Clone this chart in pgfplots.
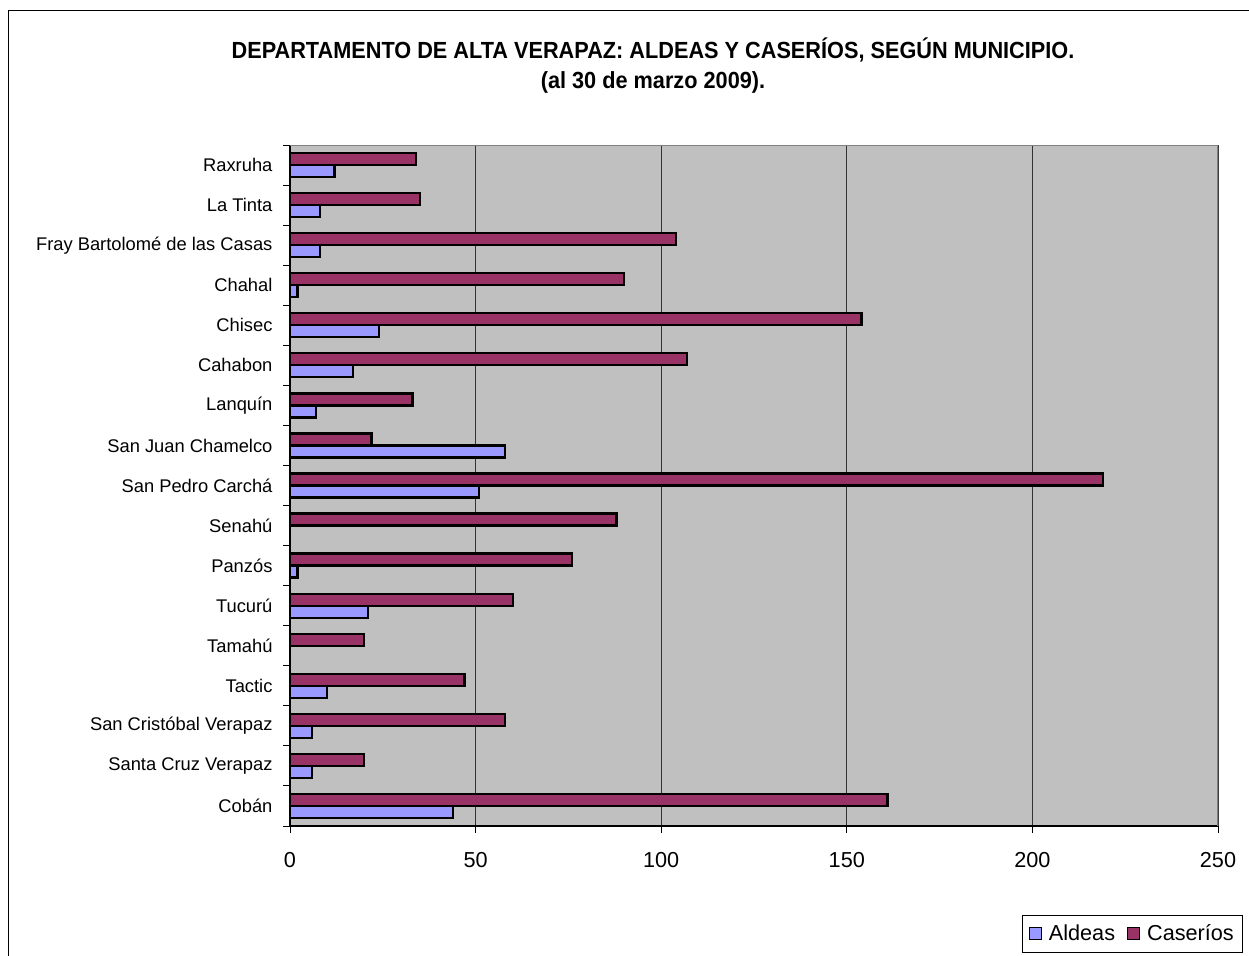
\documentclass[border=0pt]{standalone}
\usepackage{pgfplots}
\pgfplotsset{compat=1.18}
\usepackage{fontspec}
\setmainfont{Liberation Sans}
\definecolor{aldeas}{HTML}{9999FF}
\definecolor{caserios}{HTML}{993366}
\definecolor{plotbg}{HTML}{C0C0C0}
\begin{document}
\begin{tikzpicture}
\clip (0pt,0pt) rectangle (749.4pt,-573pt);
\fill[white] (0pt,0pt) rectangle (749.4pt,-573pt);
\draw[line width=0.6pt] (4.8pt,-600pt) -- (4.8pt,-6pt) -- (800pt,-6pt);
\node[font=\fontsize{14}{16}\selectfont\bfseries] at (391.8pt,-30pt) {\scalebox{0.93}[1]{DEPARTAMENTO DE ALTA VERAPAZ: ALDEAS Y CASERÍOS, SEGÚN MUNICIPIO.}};
\node[font=\fontsize{14}{16}\selectfont\bfseries] at (391.8pt,-49.2pt) {\scalebox{0.93}[1]{(al 30 de marzo 2009).}};
\begin{axis}[
  at={(174pt,-495.6pt)}, anchor=south west,
  scale only axis, width=556.8pt, height=408.6pt,
  xbar, bar width=7.2pt,
  xmin=0, xmax=250, xtick={0,50,100,150,200,250},
  ymin=-0.5, ymax=16.5,
  ytick={0,1,...,16},
  yticklabels={Cobán,Santa Cruz Verapaz,San Cristóbal Verapaz,Tactic,Tamahú,Tucurú,Panzós,Senahú,San Pedro Carchá,San Juan Chamelco,Lanquín,Cahabon,Chisec,Chahal,Fray Bartolomé de las Casas,La Tinta,Raxruha},
  minor ytick={-0.5,0.5,...,16.5},
  major y tick style={draw=none},
  minor y tick style={black, line width=0.6pt},
  major x tick style={black, line width=0.6pt},
  tick align=outside, major tick length=4pt, minor tick length=4pt,
  axis background/.style={fill=plotbg},
  axis x line*=bottom, axis y line*=left,
  axis line style={black, line width=0.8pt, -},
  xmajorgrids, grid style={black!80, line width=0.6pt},
  /pgf/number format/assume math mode=true,
  xticklabel style={font=\fontsize{13}{15}\selectfont, yshift=-8.5pt},
  yticklabel style={font=\fontsize{11}{13}\selectfont, xshift=-3pt},
  legend style={at={(0.789,-0.1305)}, anchor=north west, draw=black, line width=0.6pt, fill=white,
    font=\fontsize{13}{15}\selectfont, legend columns=2, inner sep=3.5pt,
    /tikz/every odd column/.append style={column sep=2pt},
    /tikz/every even column/.append style={column sep=5pt}},
  legend image code/.code={\draw[#1, line width=0.8pt] (0pt,-3.6pt) rectangle (7.4pt,3.8pt);},
  legend cell align=left,
]
\draw[gray, line width=0.8pt] (axis cs:0,16.5) -- (axis cs:250,16.5) -- (axis cs:250,-0.5);
\addplot[fill=aldeas, draw=black, line width=1.4pt, bar shift=-3.6pt] coordinates {
(44,0) (6,1) (6,2) (10,3) (0,4) (21,5) (2,6) (0,7) (51,8) (58,9) (7,10) (17,11) (24,12) (2,13) (8,14) (8,15) (12,16)};
\addplot[fill=caserios, draw=black, line width=1.4pt, bar shift=3.6pt] coordinates {
(161,0) (20,1) (58,2) (47,3) (20,4) (60,5) (76,6) (88,7) (219,8) (22,9) (33,10) (107,11) (154,12) (90,13) (104,14) (35,15) (34,16)};
\legend{Aldeas,Caseríos}
\end{axis}
\end{tikzpicture}
\end{document}
